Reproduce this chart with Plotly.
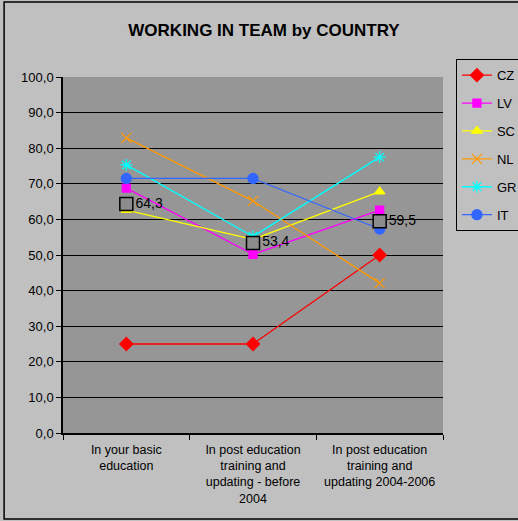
import plotly.graph_objects as go

categories = ["In your basic<br>education",
              "In post education<br>training and<br>updating - before<br>2004",
              "In post education<br>training and<br>updating 2004-2006"]

cz = [25.0, 25.0, 50.0]
lv = [68.8, 50.2, 62.6]
sc = [62.6, 54.4, 67.8]
nl = [82.9, 65.2, 42.1]
gr = [75.3, 55.2, 77.5]
it = [71.5, 71.5, 57.3]
average = [64.3, 53.4, 59.5]

series = [
    ("CZ", cz, "#FF0000", "diamond", 10),
    ("LV", lv, "#FF00FF", "square", 8),
    ("SC", sc, "#FFFF00", "triangle-up", 9),
    ("NL", nl, "#FF9900", "x-thin-open", 10),
    ("GR", gr, "#00FFFF", "asterisk-open", 10),
    ("IT", it, "#3366FF", "circle", 10),
]

fig = go.Figure()
for name, vals, color, sym, size in series:
    fig.add_trace(go.Scatter(
        x=categories, y=vals, name=name, legendgroup=name,
        mode="lines+markers", cliponaxis=False,
        line=dict(color=color, width=1.3),
        marker=dict(symbol=sym, size=size, color=color,
                    line=dict(color=color, width=1.3)),
    ))

fig.add_trace(go.Scatter(
    x=categories, y=average, name="Average", showlegend=False,
    mode="markers+text", cliponaxis=False,
    marker=dict(symbol="square", size=13, color="#8C8C8C",
                line=dict(color="black", width=1.5)),
    texttemplate="%{y:.1f}", textposition="middle right",
    textfont=dict(family="Arial, Liberation Sans", size=14, color="black"),
))

# outer chart frame
fig.add_shape(type="rect", xref="paper", yref="paper",
              x0=-0.155, x1=1.3, y0=-0.2416, y1=1.2107,
              line=dict(color="black", width=1.5), fillcolor="rgba(0,0,0,0)")

fig.update_layout(
    width=518, height=521,
    margin=dict(l=63, r=75, t=77, b=88, autoexpand=False),
    paper_bgcolor="#C0C0C0",
    plot_bgcolor="#969696",
    separators=",.",
    font=dict(family="Arial, Liberation Sans", size=13, color="black"),
    title=dict(text="<b>WORKING IN TEAM by COUNTRY</b>",
               x=0.529, xref="paper", xanchor="center",
               y=0.9424, yanchor="middle",
               font=dict(size=17, color="black")),
    legend=dict(x=1.034, y=1.05, xanchor="left", yanchor="top",
                bgcolor="#C0C0C0", bordercolor="black", borderwidth=1,
                font=dict(size=13), tracegroupgap=8, traceorder="grouped",
                itemwidth=30),
    showlegend=True,
)
fig.update_xaxes(
    range=[-0.5, 2.5],
    showgrid=False, showline=True, linecolor="black", linewidth=1.5,
    ticks="outside", tickson="boundaries", ticklen=5, tickcolor="black",
    tickfont=dict(size=12.5), zeroline=False, ticklabelstandoff=4,
)
fig.update_yaxes(
    range=[0, 100], dtick=10, tickformat=".1f",
    showgrid=True, gridcolor="black", gridwidth=1,
    showline=True, linecolor="black", linewidth=1.5,
    ticks="outside", ticklen=5, tickcolor="black",
    tickfont=dict(size=13), zeroline=False,
)

fig.write_html("out.html",
               config={"displayModeBar": False},
               post_script="document.body.style.margin='0';document.body.style.background='#E8E8E8';")
